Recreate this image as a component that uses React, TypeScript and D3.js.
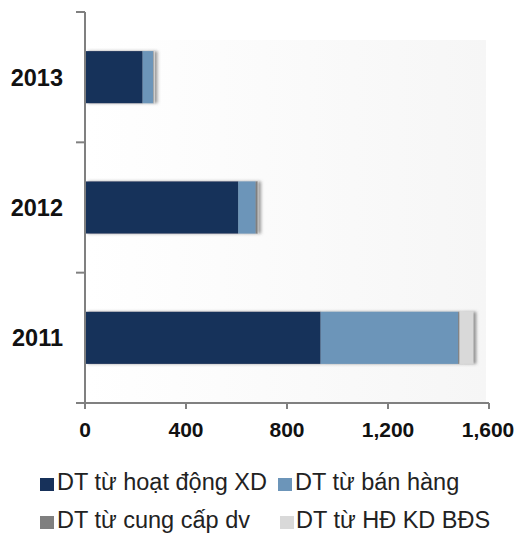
import React from "react";
import * as d3 from "d3";

const years = ["2013", "2012", "2011"];
const seriesNames = ["DT từ hoạt động XD", "DT từ bán hàng", "DT từ cung cấp dv", "DT từ HĐ KD BĐS"];
const seriesColors = ["#17315a", "#6c95b9", "#7f7f7f", "#d9d9d9"];
const xdValues = [228, 607, 933];
const banHangValues = [42, 69, 545];
const dvValues = [2, 8, 5];
const bdsValues = [4, 2, 55];
const xTicks = [0, 400, 800, 1200, 1600];

const W = 522;
const H = 536;

export default function App() {
  const x = d3.scaleLinear().domain([0, 1600]).range([85, 489]);
  const y = d3.scaleBand().domain(years).range([12, 403]).paddingInner(0.6).paddingOuter(0.3);
  const yOuter = d3.scaleBand().domain(years).range([12, 403]);
  const rows = years.map((yr, i) => ({ yr, vals: [xdValues[i], banHangValues[i], dvValues[i], bdsValues[i]] }));
  const fmt = d3.format(",");
  const font = "'Liberation Sans', Arial, sans-serif";
  const bounds = [12, ...years.map((yr) => (yOuter(yr) as number) + yOuter.bandwidth())];

  const legendItems = [
    { i: 0, sx: 40, tx: 57, ty: 490 },
    { i: 1, sx: 278, tx: 295, ty: 490 },
    { i: 2, sx: 40, tx: 57, ty: 528 },
    { i: 3, sx: 280, tx: 296, ty: 528 },
  ];

  return (
    <svg width={W} height={H} style={{ position: "absolute", left: 0, top: 0, background: "#fff" }}>
      <defs>
        <linearGradient id="bg" x1="0" x2="1" y1="0" y2="0">
          <stop offset="0" stopColor="#ffffff" />
          <stop offset="1" stopColor="#f6f6f6" />
        </linearGradient>
        <filter id="shadow" x="-5%" y="-10%" width="115%" height="130%">
          <feDropShadow dx="3" dy="0" stdDeviation="1.5" floodColor="#555" floodOpacity="0.6" />
        </filter>
      </defs>
      <rect x={86} y={40} width={400} height={362} fill="url(#bg)" />
      {rows.map((r) => {
        let acc = 0;
        return (
          <g key={r.yr} filter="url(#shadow)">
            {r.vals.map((v, k) => {
              const x0 = x(acc);
              acc += v;
              return (
                <rect key={k} x={x0} y={y(r.yr)} width={x(acc) - x0} height={y.bandwidth()} fill={seriesColors[k]} />
              );
            })}
          </g>
        );
      })}
      {/* y axis */}
      <line x1={85} x2={85} y1={12} y2={403} stroke="#808080" strokeWidth={2} />
      {bounds.map((b, i) => (
        <line key={i} x1={76} x2={85} y1={b} y2={b} stroke="#808080" strokeWidth={2} />
      ))}
      {years.map((yr) => (
        <text key={yr} x={63} y={(y(yr) as number) + y.bandwidth() / 2} dy="0.36em" textAnchor="end"
          fontFamily={font} fontWeight="bold" fontSize={23.5} fill="#111">
          {yr}
        </text>
      ))}
      {/* x axis */}
      <line x1={76} x2={489} y1={403} y2={403} stroke="#808080" strokeWidth={2} />
      {xTicks.map((t) => (
        <g key={t}>
          <line x1={x(t)} x2={x(t)} y1={403} y2={409} stroke="#808080" strokeWidth={2} />
          <text x={t === 1600 ? x(t) - 1 : x(t)} y={437} textAnchor="middle" fontFamily={font} fontWeight="bold" fontSize={21} fill="#111">
            {fmt(t)}
          </text>
        </g>
      ))}
      {/* legend */}
      {legendItems.map((l) => (
        <g key={l.i}>
          <rect x={l.sx} y={l.ty - 12} width={14} height={13} fill={seriesColors[l.i]} />
          <text x={l.tx} y={l.ty} fontFamily={font} fontSize={23.5} fill="#222">
            {seriesNames[l.i]}
          </text>
        </g>
      ))}
    </svg>
  );
}
